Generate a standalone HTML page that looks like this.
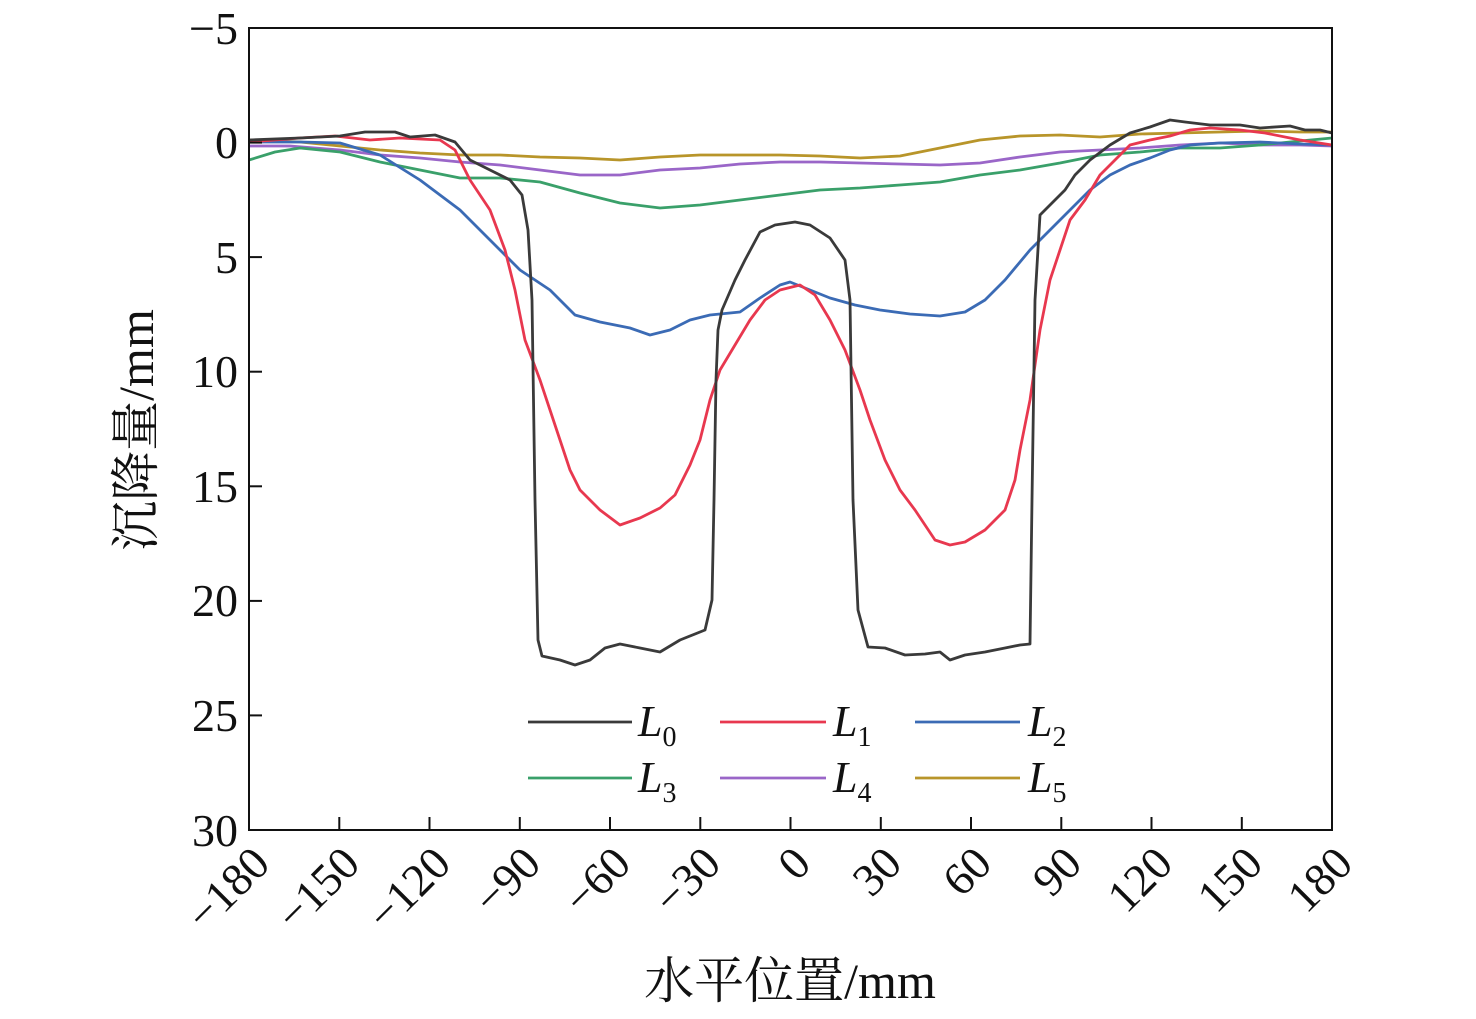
<!DOCTYPE html>
<html><head><meta charset="utf-8"><style>
html,body{margin:0;padding:0;background:#fff;}
svg text{font-family:"Liberation Serif","Noto Serif CJK SC",serif;fill:#111;}
</style></head><body>
<svg width="1476" height="1014" viewBox="0 0 1476 1014" xmlns="http://www.w3.org/2000/svg">
<g fill="none" stroke-width="2.8" stroke-linejoin="round">
<polyline stroke="#b8952a" points="249,140 300,142 340,146 380,150 420,153 460,155 500,155 540,157 580,158 620,160 660,157 700,155 740,155 780,155 820,156 860,158 900,156 940,148 980,140 1020,136 1060,135 1100,137 1140,134 1180,133 1220,132 1260,131 1300,132 1332,132"/>
<polyline stroke="#9a66c8" points="249,146 290,146 340,150 380,155 420,158 460,162 500,165 540,170 580,175 620,175 660,170 700,168 740,164 780,162 820,162 860,163 900,164 940,165 980,163 1020,157 1060,152 1100,150 1140,148 1180,145 1220,143 1260,145 1300,145 1332,146"/>
<polyline stroke="#3aa06a" points="249,160 275,152 300,148 340,152 380,162 420,170 460,178 500,178 540,182 580,193 620,203 660,208 700,205 740,200 780,195 820,190 860,188 900,185 940,182 980,175 1020,170 1060,163 1100,155 1140,152 1180,148 1220,148 1260,145 1300,141 1332,138"/>
<polyline stroke="#3b6bb5" points="249,142 300,142 340,143 380,155 420,180 460,210 490,240 520,270 550,290 575,315 600,322 630,328 650,335 670,330 690,320 710,315 740,312 760,298 780,285 790,282 810,290 830,298 855,305 880,310 910,314 940,316 965,312 985,300 1005,280 1030,250 1055,225 1075,205 1090,190 1110,175 1130,165 1150,158 1170,150 1190,145 1220,143 1260,142 1300,144 1332,145"/>
<polyline stroke="#e8384f" points="249,142 300,138 335,136 370,140 400,138 440,140 455,150 470,180 490,210 505,250 515,290 525,340 540,380 550,410 560,440 570,470 580,490 600,510 620,525 640,518 660,508 675,495 690,465 700,440 710,400 720,370 735,345 750,320 765,300 780,290 800,285 815,295 830,320 845,350 860,390 870,420 885,460 900,490 915,510 935,540 950,545 965,542 985,530 1005,510 1015,480 1020,450 1030,400 1040,330 1050,280 1060,250 1070,220 1085,200 1100,175 1115,160 1130,145 1150,140 1170,136 1190,130 1210,128 1240,130 1265,133 1300,140 1332,145"/>
<polyline stroke="#3a3a3a" points="249,140 300,138 340,136 365,132 395,132 410,137 435,135 455,142 470,160 490,170 510,180 522,195 528,230 532,300 535,500 538,640 542,656 560,660 575,665 590,660 605,648 620,644 640,648 660,652 680,640 705,630 712,600 714,500 716,380 718,330 722,310 735,280 745,260 760,232 775,225 795,222 810,225 830,238 845,260 850,300 853,500 858,610 868,647 885,648 905,655 925,654 940,652 950,660 965,655 985,652 1005,648 1020,645 1030,644 1032,500 1035,300 1040,215 1055,200 1065,190 1075,175 1090,160 1110,145 1130,133 1150,127 1170,120 1185,122 1210,125 1240,125 1260,128 1290,126 1305,130 1320,130 1332,133"/>
</g>
<rect x="249" y="28" width="1083" height="802" fill="none" stroke="#111" stroke-width="2"/>
<g stroke="#111" stroke-width="2">
<line x1="249" y1="142.6" x2="262" y2="142.6"/><line x1="249" y1="257.1" x2="262" y2="257.1"/><line x1="249" y1="371.7" x2="262" y2="371.7"/><line x1="249" y1="486.3" x2="262" y2="486.3"/><line x1="249" y1="600.9" x2="262" y2="600.9"/><line x1="249" y1="715.4" x2="262" y2="715.4"/>
<line x1="339.3" y1="830" x2="339.3" y2="817"/><line x1="429.5" y1="830" x2="429.5" y2="817"/><line x1="519.8" y1="830" x2="519.8" y2="817"/><line x1="610" y1="830" x2="610" y2="817"/><line x1="700.3" y1="830" x2="700.3" y2="817"/><line x1="790.5" y1="830" x2="790.5" y2="817"/><line x1="880.8" y1="830" x2="880.8" y2="817"/><line x1="971" y1="830" x2="971" y2="817"/><line x1="1061.3" y1="830" x2="1061.3" y2="817"/><line x1="1151.5" y1="830" x2="1151.5" y2="817"/><line x1="1241.8" y1="830" x2="1241.8" y2="817"/>
</g>
<g font-size="46" text-anchor="end">
<text x="238" y="44">−5</text><text x="238" y="158">0</text><text x="238" y="273">5</text><text x="238" y="387">10</text><text x="238" y="502">15</text><text x="238" y="616">20</text><text x="238" y="731">25</text><text x="238" y="846">30</text>
</g>
<g font-size="46" text-anchor="end">
<text transform="translate(272,866) rotate(-45)">−180</text>
<text transform="translate(362,866) rotate(-45)">−150</text>
<text transform="translate(453,866) rotate(-45)">−120</text>
<text transform="translate(543,866) rotate(-45)">−90</text>
<text transform="translate(633,866) rotate(-45)">−60</text>
<text transform="translate(723,866) rotate(-45)">−30</text>
<text transform="translate(813,866) rotate(-45)">0</text>
<text transform="translate(904,866) rotate(-45)">30</text>
<text transform="translate(994,866) rotate(-45)">60</text>
<text transform="translate(1084,866) rotate(-45)">90</text>
<text transform="translate(1175,866) rotate(-45)">120</text>
<text transform="translate(1265,866) rotate(-45)">150</text>
<text transform="translate(1355,866) rotate(-45)">180</text>
</g>
<text x="790" y="998" font-size="50" text-anchor="middle">水平位置/mm</text>
<text transform="translate(153,430) rotate(-90)" font-size="50" text-anchor="middle">沉降量/mm</text>
<g stroke-width="2.8">
<line x1="528" y1="722" x2="632" y2="722" stroke="#3a3a3a"/>
<line x1="720" y1="722" x2="826" y2="722" stroke="#e8384f"/>
<line x1="915" y1="722" x2="1020" y2="722" stroke="#3b6bb5"/>
<line x1="528" y1="778" x2="632" y2="778" stroke="#3aa06a"/>
<line x1="720" y1="778" x2="826" y2="778" stroke="#9a66c8"/>
<line x1="915" y1="778" x2="1020" y2="778" stroke="#b8952a"/>
</g>
<g font-size="44" font-style="italic">
<text x="638" y="736">L<tspan font-size="28" font-style="normal" dy="10">0</tspan></text>
<text x="833" y="736">L<tspan font-size="28" font-style="normal" dy="10">1</tspan></text>
<text x="1028" y="736">L<tspan font-size="28" font-style="normal" dy="10">2</tspan></text>
<text x="638" y="792">L<tspan font-size="28" font-style="normal" dy="10">3</tspan></text>
<text x="833" y="792">L<tspan font-size="28" font-style="normal" dy="10">4</tspan></text>
<text x="1028" y="792">L<tspan font-size="28" font-style="normal" dy="10">5</tspan></text>
</g>
</svg>
</body></html>
